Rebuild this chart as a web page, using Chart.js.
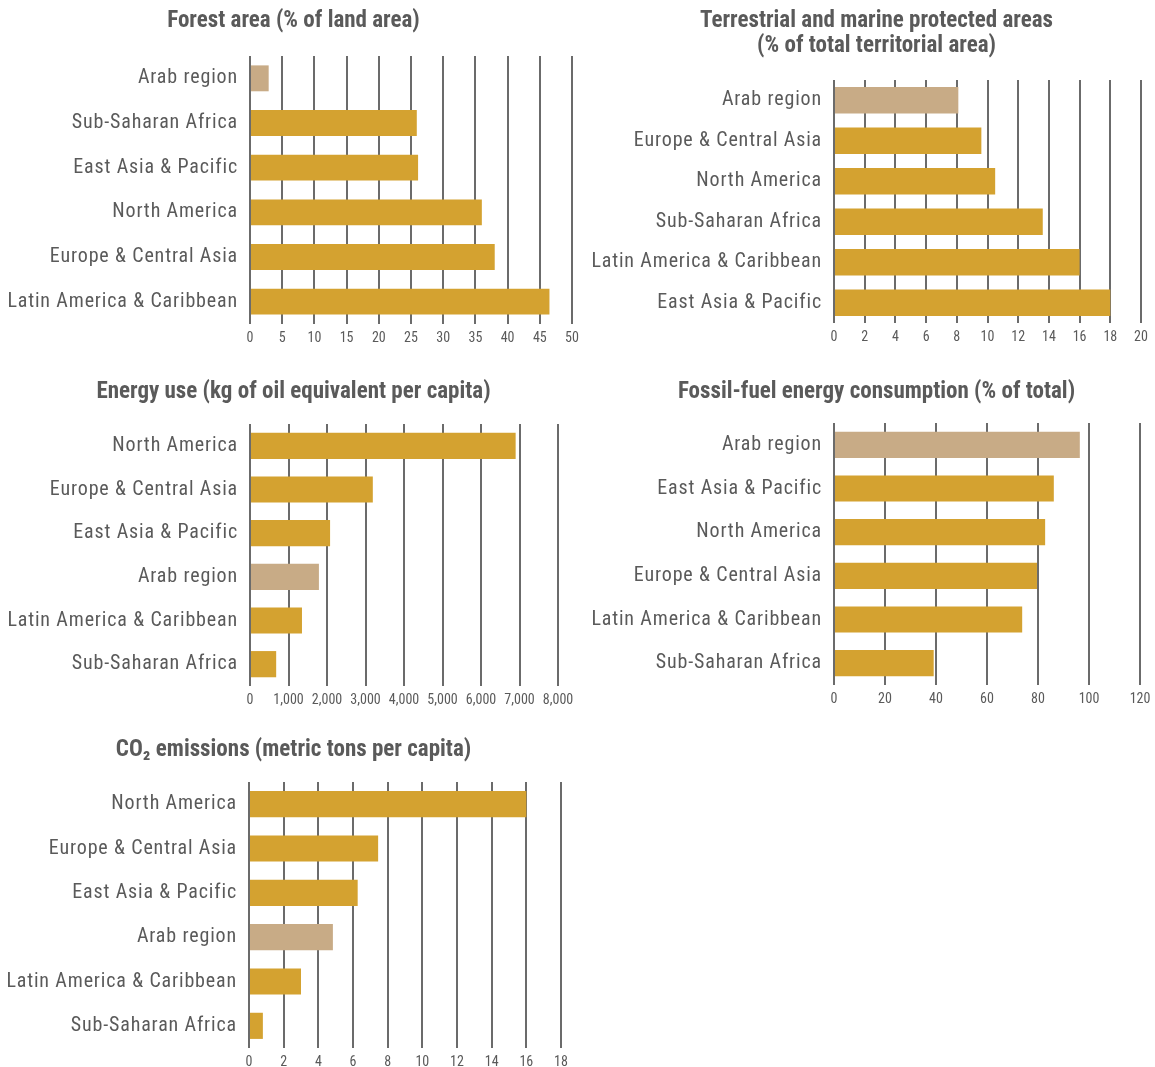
<!DOCTYPE html>
<html>
<head>
<meta charset="utf-8">
<script src="https://cdn.jsdelivr.net/npm/chart.js@4"></script>
<style>
  html, body { margin: 0; padding: 0; background: #fff; overflow: hidden; }
  .box { position: absolute; }
</style>
</head>
<body>
<div class="box" style="left:0px;top:0px"><canvas id="forest" width="590" height="350"></canvas></div>
<div class="box" style="left:580px;top:0px"><canvas id="protected" width="580" height="349"></canvas></div>
<div class="box" style="left:0px;top:365px"><canvas id="energy" width="590" height="347"></canvas></div>
<div class="box" style="left:580px;top:365px"><canvas id="fossil" width="580" height="346"></canvas></div>
<div class="box" style="left:0px;top:725px"><canvas id="co2" width="590" height="349"></canvas></div>
<script>
// Forest area (% of land area)
const forestLabels = ['Arab region', 'Sub-Saharan Africa', 'East Asia & Pacific', 'North America', 'Europe & Central Asia', 'Latin America & Caribbean'];
const forestValues = [2.9, 25.9, 26.1, 36.0, 38.0, 46.5];

// Terrestrial and marine protected areas (% of total territorial area)
const protectedLabels = ['Arab region', 'Europe & Central Asia', 'North America', 'Sub-Saharan Africa', 'Latin America & Caribbean', 'East Asia & Pacific'];
const protectedValues = [8.1, 9.6, 10.5, 13.6, 16.0, 18.0];

// Energy use (kg of oil equivalent per capita)
const energyLabels = ['North America', 'Europe & Central Asia', 'East Asia & Pacific', 'Arab region', 'Latin America & Caribbean', 'Sub-Saharan Africa'];
const energyValues = [6900, 3190, 2080, 1790, 1350, 680];

// Fossil-fuel energy consumption (% of total)
const fossilLabels = ['Arab region', 'East Asia & Pacific', 'North America', 'Europe & Central Asia', 'Latin America & Caribbean', 'Sub-Saharan Africa'];
const fossilValues = [96.4, 86.2, 82.8, 79.6, 73.8, 39.1];

// CO2 emissions (metric tons per capita)
const co2Labels = ['North America', 'Europe & Central Asia', 'East Asia & Pacific', 'Arab region', 'Latin America & Caribbean', 'Sub-Saharan Africa'];
const co2Values = [16.0, 7.45, 6.27, 4.84, 3.0, 0.8];

const GOLD = '#d4a230';
const TAN = '#c8ab86';
const TEXT = '#5a5a5a';
const GRID = '#6b6b6b';
const FONT = "'Roboto Condensed', 'DejaVu Sans Condensed', sans-serif";

// letter spacing for the category labels only (y ticks are drawn on layer z=1)
const spacingPlugin = {
  id: 'spacing',
  afterDatasetsDraw(chart) { chart.ctx.letterSpacing = '0.85px'; },
  afterDraw(chart) { chart.ctx.letterSpacing = '0px'; }
};

// move the title so it is centred where the original one is
const titleShift = {
  id: 'titleShift',
  afterLayout(chart, args, opts) {
    const t = chart.titleBlock;
    const w = t.right - t.left;
    t.left = opts.center - w / 2;
    t.right = opts.center + w / 2;
  }
};

function makeBarChart(id, title, labels, values, max, step, opts) {
  const ctx = document.getElementById(id).getContext('2d');
  return new Chart(ctx, {
    type: 'bar',
    data: {
      labels: labels,
      datasets: [{
        data: values,
        backgroundColor: labels.map(l => l === 'Arab region' ? TAN : GOLD),
        barPercentage: opts.bar,
        categoryPercentage: 1
      }]
    },
    options: {
      indexAxis: 'y',
      responsive: false,
      animation: false,
      layout: { padding: { left: 0, right: opts.padRight, top: 0, bottom: 0 } },
      plugins: {
        legend: { display: false },
        tooltip: { enabled: false },
        titleShift: { center: opts.titleCenter },
        title: {
          display: true,
          text: title,
          color: TEXT,
          font: { family: FONT, size: 23, weight: 'bold', lineHeight: '25px' },
          padding: { top: opts.titleTop, bottom: opts.titleBottom }
        }
      },
      scales: {
        x: {
          min: 0,
          max: max,
          grid: { color: GRID, lineWidth: 2, drawTicks: false },
          border: { display: false },
          ticks: {
            stepSize: step, color: TEXT, padding: 6,
            maxRotation: 0, minRotation: 0, autoSkip: false,
            font: { family: FONT, size: 14 }
          },
          afterFit: (axis) => { axis.height = 26; }
        },
        y: {
          grid: { display: false, drawTicks: false },
          border: { display: false },
          ticks: { color: TEXT, padding: 12, z: 1, font: { family: FONT, size: 20 } },
          afterFit: (axis) => { axis.width = opts.yWidth; }
        }
      }
    },
    plugins: [spacingPlugin, titleShift]
  });
}

makeBarChart('forest', 'Forest area (% of land area)', forestLabels, forestValues, 50, 5,
  { padRight: 18, yWidth: 250, titleCenter: 293.5, titleTop: 8.5, titleBottom: 22.5, bar: 0.58 });

makeBarChart('protected', ['Terrestrial and marine protected areas', '(% of total territorial area)'], protectedLabels, protectedValues, 20, 2,
  { padRight: 19, yWidth: 254, titleCenter: 296.5, titleTop: 8.5, titleBottom: 21.5, bar: 0.66 });

makeBarChart('energy', 'Energy use (kg of oil equivalent per capita)', energyLabels, energyValues, 8000, 1000,
  { padRight: 32, yWidth: 250, titleCenter: 293.5, titleTop: 14.5, titleBottom: 19.5, bar: 0.6 });

makeBarChart('fossil', 'Fossil-fuel energy consumption (% of total)', fossilLabels, fossilValues, 120, 20,
  { padRight: 20, yWidth: 254, titleCenter: 296.5, titleTop: 14.5, titleBottom: 18.5, bar: 0.6 });

makeBarChart('co2', 'CO\u2082 emissions (metric tons per capita)', co2Labels, co2Values, 18, 2,
  { padRight: 29, yWidth: 249, titleCenter: 293.5, titleTop: 12.5, titleBottom: 19.5, bar: 0.59 });
</script>
</body>
</html>
